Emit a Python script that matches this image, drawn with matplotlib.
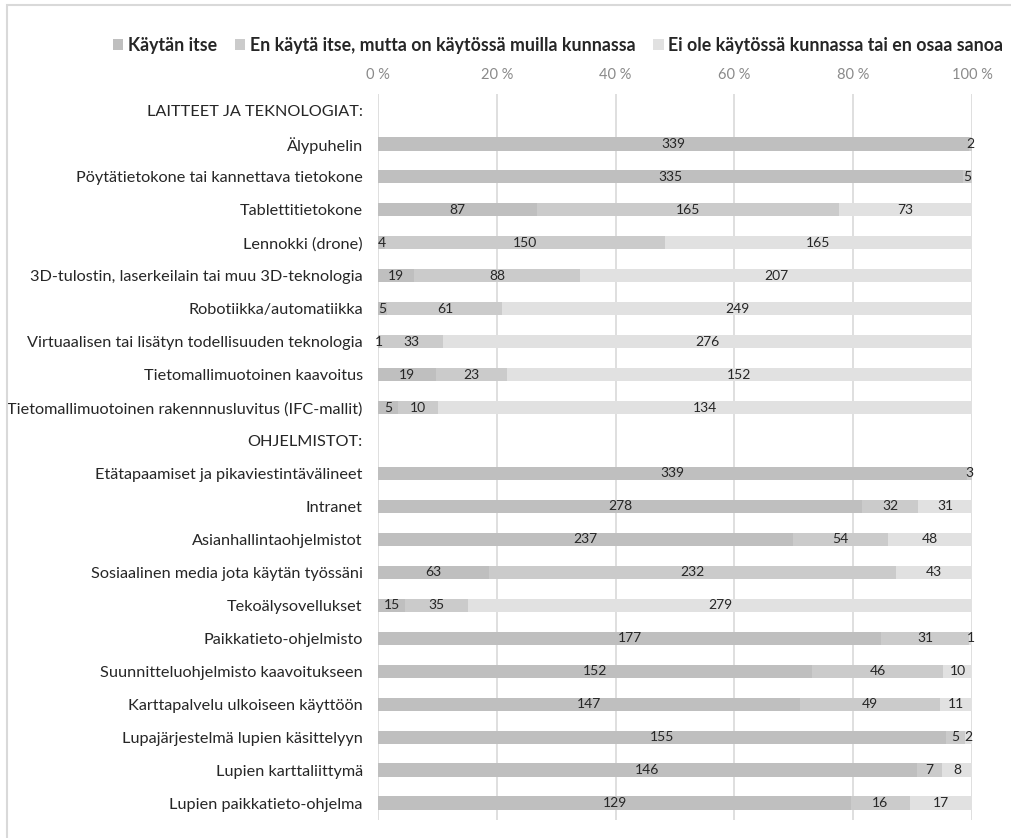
import numpy as np
import matplotlib as mpl
import matplotlib.pyplot as plt
from matplotlib.patches import Rectangle, Patch


W, H = 1011, 838

categories = [
    "LAITTEET JA TEKNOLOGIAT:",
    "Älypuhelin",
    "Pöytätietokone tai kannettava tietokone",
    "Tablettitietokone",
    "Lennokki (drone)",
    "3D-tulostin, laserkeilain tai muu 3D-teknologia",
    "Robotiikka/automatiikka",
    "Virtuaalisen tai lisätyn todellisuuden teknologia",
    "Tietomallimuotoinen kaavoitus",
    "Tietomallimuotoinen rakennnusluvitus (IFC-mallit)",
    "OHJELMISTOT:",
    "Etätapaamiset ja pikaviestintävälineet",
    "Intranet",
    "Asianhallintaohjelmistot",
    "Sosiaalinen media jota käytän työssäni",
    "Tekoälysovellukset",
    "Paikkatieto-ohjelmisto",
    "Suunnitteluohjelmisto kaavoitukseen",
    "Karttapalvelu ulkoiseen käyttöön",
    "Lupajärjestelmä lupien käsittelyyn",
    "Lupien karttaliittymä",
    "Lupien paikkatieto-ohjelma",
]

series_names = [
    "Käytän itse",
    "En käytä itse, mutta on käytössä muilla kunnassa",
    "Ei ole käytössä kunnassa tai en osaa sanoa",
]

kaytan_itse = [0, 339, 335, 87, 4, 19, 5, 1, 19, 5,
               0, 339, 278, 237, 63, 15, 177, 152, 147, 155, 146, 129]
muilla_kunnassa = [0, 2, 5, 165, 150, 88, 61, 33, 23, 10,
                   0, 3, 32, 54, 232, 35, 31, 46, 49, 5, 7, 16]
ei_kaytossa = [0, 0, 0, 73, 165, 207, 249, 276, 152, 134,
               0, 0, 31, 48, 43, 279, 1, 10, 11, 2, 8, 17]

tick_values = [0, 20, 40, 60, 80, 100]
tick_labels = ["0 %", "20 %", "40 %", "60 %", "80 %", "100 %"]

colors = ["#bfbfbf", "#cbcbcb", "#e1e1e1"]

mpl.rcParams['font.family'] = ['Lato', 'DejaVu Sans']

fig = plt.figure(figsize=(W / 100, H / 100), dpi=100)

# outer chart frame (runs off the right/bottom edge like the source)
fig.patches.append(Rectangle((6.5 / W, -0.05), 1.2, (H - 5.5) / H + 0.05,
                             transform=fig.transFigure, fill=False,
                             edgecolor="#d9d9d9", linewidth=1.5))

left, right = 378 / W, 972 / W
top, bottom = 94.5 / H, 819.5 / H
ax = fig.add_axes([left, 1 - bottom, right - left, bottom - top])

data = np.array([kaytan_itse, muilla_kunnassa, ei_kaytossa], dtype=float)
totals = data.sum(axis=0)
totals[totals == 0] = 1
pct = data / totals * 100

y = np.arange(len(categories))
starts = np.zeros(len(categories))
for i in range(3):
    ax.barh(y, pct[i], left=starts, height=0.4, color=colors[i],
            linewidth=0, zorder=2)
    for j in range(len(categories)):
        if data[i, j] > 0:
            ax.text(starts[j] + pct[i, j] / 2, y[j], f"{int(data[i, j])}",
                    ha="center", va="center", fontsize=10, color="#262626",
                    zorder=3)
    starts = starts + pct[i]

ax.set_xlim(0, 100)
ax.set_ylim(len(categories) - 0.5, -0.5)
ax.set_yticks(y)
ax.set_yticklabels(categories, fontsize=11.7, color="#262626")
ax.set_xticks(tick_values)
ax.set_xticklabels(tick_labels, fontsize=10.5, color="#8a8a8a")
ax.xaxis.tick_top()
ax.tick_params(axis="x", length=0, pad=9)
ax.tick_params(axis="y", length=0, pad=11)
ax.grid(axis="x", color="#d9d9d9", linewidth=1.2, zorder=0)
for s in ax.spines.values():
    s.set_visible(False)

handles = [Patch(facecolor=c, edgecolor="none") for c in colors]
leg = fig.legend(handles, series_names, loc="center", ncol=3,
                 bbox_to_anchor=(558 / W, 1 - 45 / H), frameon=False,
                 prop={"weight": "bold", "size": 12.8},
                 handlelength=0.6, handleheight=0.6, handletextpad=0.25,
                 columnspacing=1.0)
for t in leg.get_texts():
    t.set_color("#262626")

fig.savefig("out.png", dpi=100)
